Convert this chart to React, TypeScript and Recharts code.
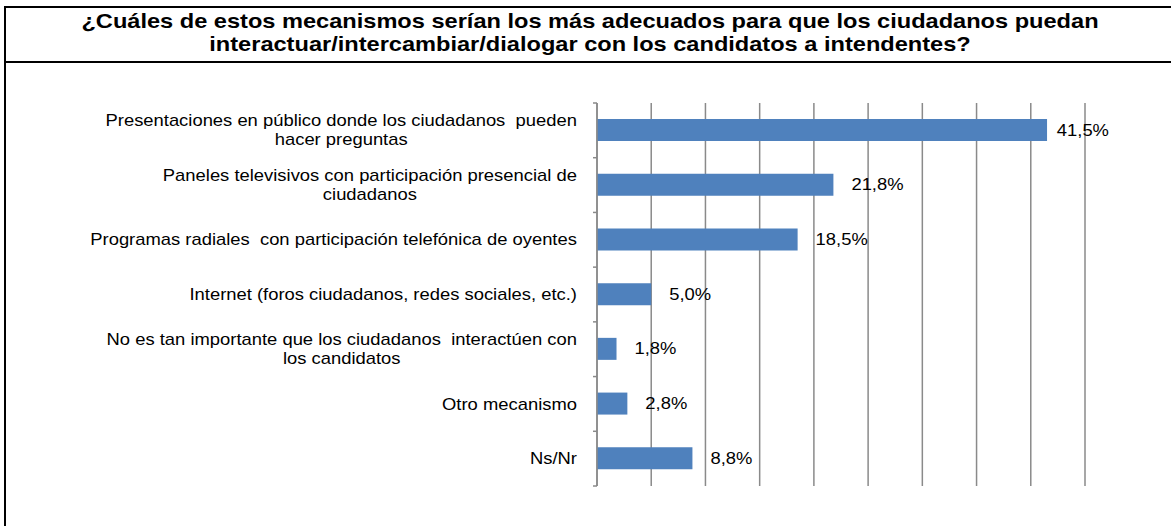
import React from 'react';
import { BarChart, Bar, XAxis, YAxis, CartesianGrid, LabelList } from 'recharts';

// ---------- data ----------
const titleLines = [
  '¿Cuáles de estos mecanismos serían los más adecuados para que los ciudadanos puedan',
  'interactuar/intercambiar/dialogar con los candidatos a intendentes?',
];

const categories = [
  'Presentaciones en público donde los ciudadanos  pueden\nhacer preguntas',
  'Paneles televisivos con participación presencial de\nciudadanos',
  'Programas radiales  con participación telefónica de oyentes',
  'Internet (foros ciudadanos, redes sociales, etc.)',
  'No es tan importante que los ciudadanos  interactúen con\nlos candidatos',
  'Otro mecanismo',
  'Ns/Nr',
];

const values = [41.5, 21.8, 18.5, 5.0, 1.8, 2.8, 8.8];

const xTicks = [0, 5, 10, 15, 20, 25, 30, 35, 40, 45];
const X_MAX = 45;

const data = categories.map((name, i) => ({ name, value: values[i] }));

// ---------- layout / style ----------
const W = 1171;
const H = 526;
const M = { top: 103, right: 86, bottom: 40, left: 0 };
const Y_AXIS_W = 597;
const PLOT_RIGHT = W - M.right;
const BAND = (H - M.top - M.bottom) / categories.length;
const FONT = '"Liberation Sans", Arial, Helvetica, sans-serif';
const SX = 1.15; // horizontal stretch of the reference glyphs
const LABEL_SIZE = 16;
const GRID = '#8a8a8a';
const BAR = '#4F81BD';

let ctx: CanvasRenderingContext2D | null = null;
function measure(text: string, font: string): number {
  if (!ctx) ctx = document.createElement('canvas').getContext('2d');
  if (!ctx) return text.length * 8;
  ctx.font = font;
  return ctx.measureText(text).width;
}

const CategoryTick = (props: any) => {
  const { x, y, payload, index } = props;
  const lines: string[] = String(payload.value).split('\n');
  const font = `${LABEL_SIZE}px ${FONT}`;
  const blockW = Math.max(...lines.map((l) => measure(l, font))) * SX;
  const right = x - 20;
  const cx = right - blockW / 2;
  const lh = 19;
  const first = y - ((lines.length - 1) * lh) / 2;
  return (
    <g>
      <line x1={x - 4} x2={x} y1={y - BAND / 2} y2={y - BAND / 2} stroke={GRID} strokeWidth={1.5} />
      {index === categories.length - 1 && (
        <line x1={x - 4} x2={x} y1={y + BAND / 2} y2={y + BAND / 2} stroke={GRID} strokeWidth={1.5} />
      )}
      {lines.map((l, i) => (
        <text
          key={i}
          transform={`translate(${cx},${first + i * lh}) scale(${SX},1)`}
          textAnchor="middle"
          dy="0.35em"
          fontFamily={FONT}
          fontSize={LABEL_SIZE}
          fill="#000"
          style={{ whiteSpace: 'pre' }}
        >
          {l}
        </text>
      ))}
    </g>
  );
};

const fmt = (v: number) => v.toFixed(1).replace('.', ',') + '%';

const ValueLabel = (props: any) => {
  const { x, y, width, height, value } = props;
  const text = fmt(Number(value));
  const tw = measure(text, `${LABEL_SIZE}px ${FONT}`) * SX;
  let lx = x + width + 18;
  const maxRight = PLOT_RIGHT + 24;
  if (lx + tw > maxRight) lx = Math.max(x + width + 8, maxRight - tw);
  return (
    <text
      transform={`translate(${lx},${y + height / 2}) scale(${SX},1)`}
      dy="0.35em"
      textAnchor="start"
      fontFamily={FONT}
      fontSize={LABEL_SIZE}
      fill="#000"
    >
      {text}
    </text>
  );
};

const gridX = (p: any) => {
  const scale = p?.xAxis?.scale;
  if (typeof scale === 'function') return xTicks.map((t) => scale(t));
  const off = p.offset;
  return xTicks.map((t) => off.left + (t / X_MAX) * off.width);
};

export default function App() {
  return (
    <div style={{ position: 'absolute', left: 0, top: 0, width: W, height: H, background: '#fff', overflow: 'hidden' }}>
      <div style={{ position: 'absolute', left: 0, top: 0 }}>
        <BarChart width={W} height={H} data={data} layout="vertical" margin={M} barCategoryGap={0}>
          <CartesianGrid
            horizontal={false}
            vertical
            stroke={GRID}
            strokeWidth={1.5}
            verticalCoordinatesGenerator={gridX}
          />
          <XAxis
            type="number"
            domain={[0, X_MAX]}
            ticks={xTicks}
            tick={false}
            axisLine={false}
            tickLine={false}
            height={0}
          />
          <YAxis
            type="category"
            dataKey="name"
            width={Y_AXIS_W}
            tick={<CategoryTick />}
            tickLine={false}
            tickSize={0}
            tickMargin={0}
            axisLine={{ stroke: GRID, strokeWidth: 1.5 }}
            interval={0}
          />
          <Bar dataKey="value" fill={BAR} barSize={22} isAnimationActive={false}>
            <LabelList dataKey="value" content={<ValueLabel />} />
          </Bar>
        </BarChart>
      </div>
      <svg width={W} height={H} style={{ position: 'absolute', left: 0, top: 0, pointerEvents: 'none' }}>
        <line x1={4} x2={W} y1={7} y2={7} stroke="#000" strokeWidth={2} />
        <line x1={4} x2={W} y1={62} y2={62} stroke="#000" strokeWidth={2} />
        <line x1={5} x2={5} y1={6} y2={H} stroke="#000" strokeWidth={2} />
        {titleLines.map((t, i) => (
          <text
            key={i}
            transform={`translate(590,${28 + i * 23}) scale(1.18,1)`}
            textAnchor="middle"
            fontFamily={FONT}
            fontWeight="bold"
            fontSize={20}
            fill="#000"
          >
            {t}
          </text>
        ))}
      </svg>
    </div>
  );
}
